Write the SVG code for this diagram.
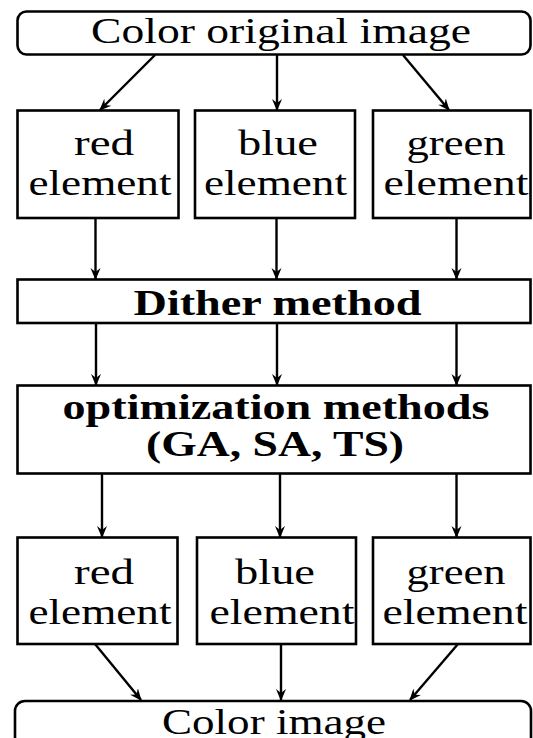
<svg xmlns="http://www.w3.org/2000/svg" width="533" height="738" viewBox="0 0 533 738">
  <style>
    .box { fill: #fff; stroke: #000; stroke-width: 2.6; }
    .lbl { font-family: "Liberation Serif", "Times New Roman", serif; font-size: 36px; fill: #000; text-anchor: middle; }
    .bold { font-weight: bold; }
    .edge { stroke: #000; stroke-width: 2.4; fill: none; marker-end: url(#arrow); }
  </style>
  <defs>
    <marker id="arrow" viewBox="0 0 12 12" refX="11" refY="6" markerWidth="12" markerHeight="12" markerUnits="userSpaceOnUse" orient="auto">
      <path d="M0,1 L12,6 L0,11 L4,6 z" fill="#000"/>
    </marker>
  </defs>

  <rect width="533" height="738" fill="#fff"/>

  <!-- source image -->
  <g id="src">
    <rect class="box" x="17.5" y="11.5" width="513" height="43" rx="9"/>
    <text class="lbl" x="281" y="43" textLength="380" lengthAdjust="spacingAndGlyphs">Color original image</text>
  </g>

  <!-- split channels -->
  <g id="red1">
    <rect class="box" x="17.5" y="110.5" width="161" height="107.5"/>
    <text class="lbl" x="104" y="155" textLength="60" lengthAdjust="spacingAndGlyphs">red</text>
    <text class="lbl" x="100" y="195" textLength="143" lengthAdjust="spacingAndGlyphs">element</text>
  </g>
  <g id="blue1">
    <rect class="box" x="195" y="110.5" width="160" height="107.5"/>
    <text class="lbl" x="278" y="155" textLength="80" lengthAdjust="spacingAndGlyphs">blue</text>
    <text class="lbl" x="275.5" y="195" textLength="143" lengthAdjust="spacingAndGlyphs">element</text>
  </g>
  <g id="green1">
    <rect class="box" x="373" y="110.5" width="157.5" height="107.5"/>
    <text class="lbl" x="456" y="155" textLength="99" lengthAdjust="spacingAndGlyphs">green</text>
    <text class="lbl" x="456" y="195" textLength="145" lengthAdjust="spacingAndGlyphs">element</text>
  </g>

  <!-- processing -->
  <g id="dither">
    <rect class="box" x="17.5" y="279.5" width="513" height="43.5"/>
    <text class="lbl bold" x="277.5" y="315" textLength="288" lengthAdjust="spacingAndGlyphs">Dither method</text>
  </g>
  <g id="optim">
    <rect class="box" x="17.5" y="385.5" width="513" height="88"/>
    <text class="lbl bold" x="276" y="419" textLength="427" lengthAdjust="spacingAndGlyphs">optimization methods</text>
    <text class="lbl bold" x="275" y="456" textLength="258" lengthAdjust="spacingAndGlyphs">(GA, SA, TS)</text>
  </g>

  <!-- optimized channels -->
  <g id="red2">
    <rect class="box" x="17.5" y="537.5" width="160" height="106.5"/>
    <text class="lbl" x="104" y="584" textLength="60" lengthAdjust="spacingAndGlyphs">red</text>
    <text class="lbl" x="100" y="624" textLength="143" lengthAdjust="spacingAndGlyphs">element</text>
  </g>
  <g id="blue2">
    <rect class="box" x="197" y="537.5" width="159" height="106.5"/>
    <text class="lbl" x="275" y="584" textLength="80" lengthAdjust="spacingAndGlyphs">blue</text>
    <text class="lbl" x="282" y="624" textLength="145" lengthAdjust="spacingAndGlyphs">element</text>
  </g>
  <g id="green2">
    <rect class="box" x="373" y="537.5" width="157.5" height="106.5"/>
    <text class="lbl" x="456" y="584" textLength="99" lengthAdjust="spacingAndGlyphs">green</text>
    <text class="lbl" x="455" y="624" textLength="145" lengthAdjust="spacingAndGlyphs">element</text>
  </g>

  <!-- merged result -->
  <g id="result">
    <rect class="box" x="15" y="701" width="516" height="60" rx="10"/>
    <text class="lbl" x="274" y="734" textLength="224" lengthAdjust="spacingAndGlyphs">Color image</text>
  </g>

  <g id="connectors">
    <line class="edge" x1="155" y1="55" x2="100" y2="110"/>
    <line class="edge" x1="277" y1="55" x2="277" y2="110"/>
    <line class="edge" x1="403" y1="55" x2="449" y2="110"/>

    <line class="edge" x1="95.5" y1="218" x2="95.5" y2="279"/>
    <line class="edge" x1="276.5" y1="218" x2="276.5" y2="279"/>
    <line class="edge" x1="456.5" y1="218" x2="456.5" y2="279"/>

    <line class="edge" x1="96" y1="323" x2="96" y2="385"/>
    <line class="edge" x1="277" y1="323" x2="277" y2="385"/>
    <line class="edge" x1="456.5" y1="323" x2="456.5" y2="385"/>

    <line class="edge" x1="102" y1="473.5" x2="102" y2="537"/>
    <line class="edge" x1="280" y1="473.5" x2="280" y2="537"/>
    <line class="edge" x1="456.5" y1="473.5" x2="456.5" y2="537"/>

    <line class="edge" x1="95" y1="644" x2="141" y2="700"/>
    <line class="edge" x1="281" y1="644" x2="281" y2="700"/>
    <line class="edge" x1="458" y1="644" x2="410" y2="700"/>
  </g>
</svg>
